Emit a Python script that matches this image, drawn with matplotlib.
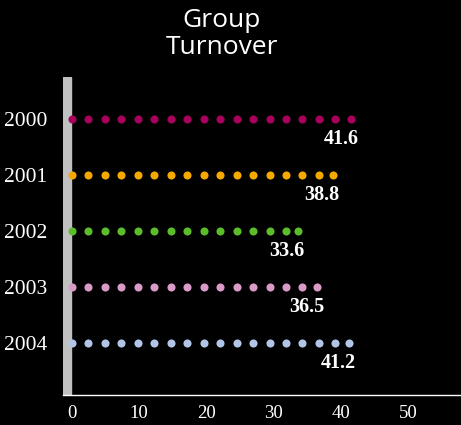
import numpy as np
import matplotlib
matplotlib.use("Agg")
import matplotlib.pyplot as plt

# Turnover per year
years = ["2000", "2001", "2002", "2003", "2004"]
turnover = [41.6, 38.8, 33.6, 36.5, 41.2]
colors = ["#a8005c", "#f5a800", "#5cbd2b", "#d99bc6", "#b3c5e6"]
xticks = [0, 10, 20, 30, 40, 50]

DOT_STEP = 2.45  # spacing between repeated dot symbols, in data units

fig = plt.figure(figsize=(4.61, 4.25), dpi=100, facecolor="black")
ax = fig.add_axes([63 / 461, 30 / 425, 398 / 461, 318 / 425], facecolor="black")

for i, (v, c) in enumerate(zip(turnover, colors)):
    xs = np.arange(0, v - DOT_STEP * 0.4, DOT_STEP)
    xs = np.append(xs, v)
    ax.scatter(xs, np.full_like(xs, i), s=34, color=c, linewidths=0, zorder=3)
    ax.annotate(f"{v}", xy=(v, i), xytext=(5, -7), textcoords="offset points",
                ha="right", va="top", color="white", fontsize=14.5,
                fontweight="bold", family="Liberation Serif")

ax.set_xlim(-1.34, 57.9)
ax.set_ylim(4.93, -0.75)

# thick grey category axis on the left
ax.axvspan(-1.34, -0.15, color="#c0c0c0", zorder=2)

ax.set_yticks(range(len(years)))
ax.set_yticklabels(years, family="Liberation Serif", fontsize=15.5, color="white")
ax.set_xticks(xticks)
ax.set_xticklabels([str(t) for t in xticks], family="Liberation Serif",
                   fontsize=13.5, color="white")
ax.tick_params(axis="y", length=0, pad=11.5)
ax.tick_params(axis="x", length=0, pad=7)

for side in ("top", "right", "left"):
    ax.spines[side].set_visible(False)
ax.spines["bottom"].set_color("white")
ax.spines["bottom"].set_linewidth(1)

fig.text(222 / 461, 1 - 8 / 425, "Group\nTurnover", ha="center", va="top",
         color="white", fontsize=19, family="Open Sans", fontweight="medium",
         linespacing=1.12)

fig.savefig("out.png", dpi=100, facecolor="black")
